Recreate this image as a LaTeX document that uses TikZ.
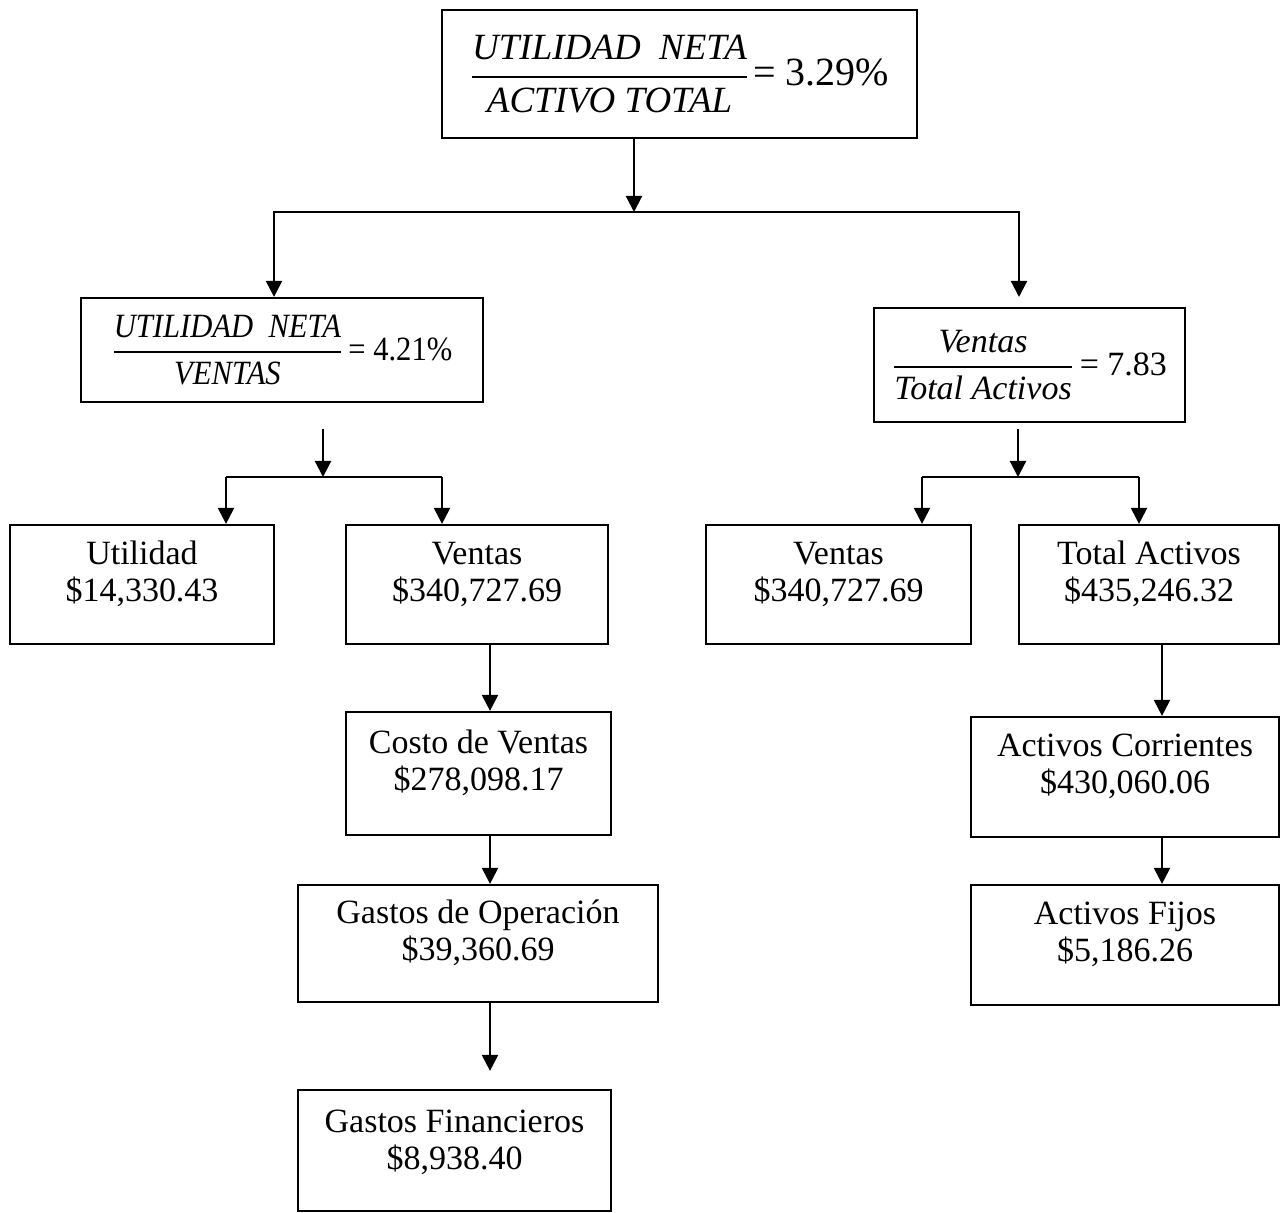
\documentclass[tikz,border=0pt]{standalone}
\usepackage{amsmath}
\usepackage{fontspec}
\setmainfont{Liberation Serif}
\usetikzlibrary{arrows.meta}

\newcommand{\razon}[2]{\genfrac{}{}{0.9pt}{0}{\textit{#1}}{\textit{#2}}}

\begin{document}
\begin{tikzpicture}[x=0.5pt, y=-0.5pt,
  caja/.style={draw, line width=1.1pt, align=center, inner sep=0pt,
    font=\fontsize{17}{18.5}\selectfont, text depth=13pt},
  formula/.style={draw, line width=1.1pt, inner sep=0pt},
  flecha/.style={line width=1.1pt, -{Triangle[length=8pt,width=8pt]}}]
\useasboundingbox (0,0) rectangle (1281,1213);

\node[formula, minimum width=237.5pt, minimum height=64pt,
  font=\fontsize{18.5}{21}\selectfont] (rentab) at (679.5,74)
  {$\razon{UTILIDAD\ \ NETA\rule[-5.5pt]{0pt}{5.5pt}}{\rule{0pt}{14.5pt}ACTIVO TOTAL}$\kern2pt
   {\fontsize{20}{22}\selectfont= 3.29\%}};
\node[formula, minimum width=201pt, minimum height=52pt,
  font=\fontsize{17}{19}\selectfont] (margen) at (282,350)
  {\scalebox{0.9}[1]{$\razon{UTILIDAD\ \ NETA}{VENTAS}$\,= 4.21\%}};
\node[formula, minimum width=155.5pt, minimum height=57pt,
  font=\fontsize{17}{19}\selectfont] (rotacion) at (1029.5,365)
  {$\razon{Ventas}{Total\ Activos}$\,= 7.83};

\node[caja, minimum width=132pt, minimum height=59.5pt] (utilidad) at (142,584.5)
  {Utilidad\\\$14,330.43};
\node[caja, minimum width=131pt, minimum height=59.5pt] (ventasA) at (477,584.5)
  {Ventas\\\$340,727.69};
\node[caja, minimum width=132.5pt, minimum height=59.5pt] (ventasB) at (838.5,584.5)
  {Ventas\\\$340,727.69};
\node[caja, minimum width=130pt, minimum height=59.5pt] (totalact) at (1149,584.5)
  {Total Activos\\\$435,246.32};
\node[caja, minimum width=132.5pt, minimum height=61.5pt] (costo) at (478.5,773.5)
  {Costo de Ventas\\\$278,098.17};
\node[caja, minimum width=180pt, minimum height=58.5pt] (gastosop) at (478,943.5)
  {Gastos de Operación\\\$39,360.69};
\node[caja, minimum width=156.5pt, minimum height=60.5pt, text depth=11pt] (gastosfin) at (454.5,1150.5)
  {Gastos Financieros\\\$8,938.40};
\node[caja, minimum width=154pt, minimum height=60pt] (actcorr) at (1125,777)
  {Activos Corrientes\\\$430,060.06};
\node[caja, minimum width=154pt, minimum height=60pt] (actfijos) at (1125,945)
  {Activos Fijos\\\$5,186.26};

\coordinate (j0) at (634,212);
\coordinate (j1) at (274,212);
\coordinate (j2) at (1019,297);
\draw[flecha] (rentab.south -| j0) -- (j0);
\draw[flecha] (j0) -| (margen.north -| j1);
\draw[flecha] (j0) -| (j2);

\coordinate (a0) at (323,477);
\coordinate (a1) at (226,477);
\coordinate (a2) at (442,477);
\draw[flecha, shorten <=13pt] (margen.south -| a0) -- (a0);
\draw[line width=1.1pt] (a1) -- (a2);
\draw[flecha] (a1) -- (a1 |- utilidad.north);
\draw[flecha] (a2) -- (a2 |- ventasA.north);

\coordinate (b0) at (1018,477);
\coordinate (b1) at (922,477);
\coordinate (b2) at (1139,477);
\draw[flecha, shorten <=3pt] (rotacion.south -| b0) -- (b0);
\draw[line width=1.1pt] (b1) -- (b2);
\draw[flecha] (b1) -- (b1 |- ventasB.north);
\draw[flecha] (b2) -- (b2 |- totalact.north);

\coordinate (c) at (490,0);
\foreach \a/\b in {ventasA/costo, costo/gastosop}
  \draw[flecha] (\a.south -| c) -- (\b.north -| c);
\draw[flecha, shorten >=9pt] (gastosop.south -| c) -- (gastosfin.north -| c);

\coordinate (d) at (1162,0);
\foreach \a/\b in {totalact/actcorr, actcorr/actfijos}
  \draw[flecha] (\a.south -| d) -- (\b.north -| d);
\end{tikzpicture}
\end{document}
